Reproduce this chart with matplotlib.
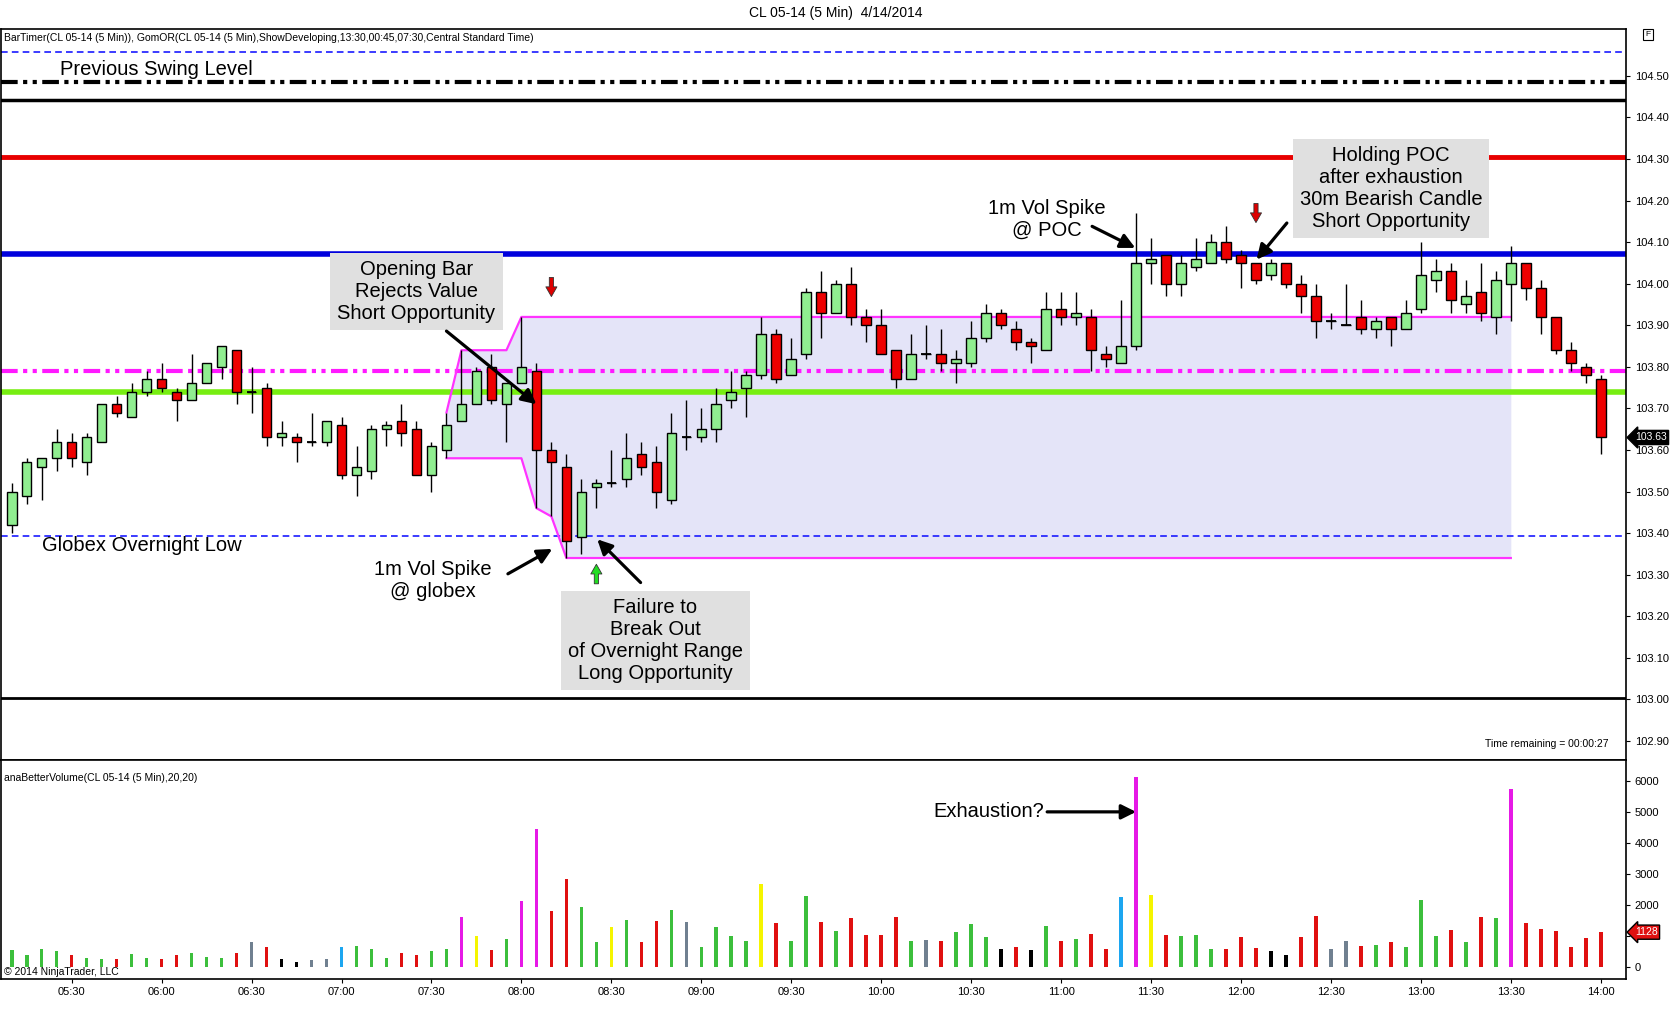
import numpy as np
import pandas as pd
import matplotlib
matplotlib.use('Agg')
import matplotlib.pyplot as plt
from matplotlib.ticker import FormatStrFormatter

plt.rcParams['font.family'] = ['Liberation Sans', 'DejaVu Sans']

# 5 min bars, CL 05-14, 4/14/2014
times = pd.date_range('2014-04-14 05:10', '2014-04-14 14:00', freq='5min')

opens = [103.42, 103.49, 103.56, 103.58, 103.62, 103.57, 103.62, 103.71, 103.68, 103.74,
         103.77, 103.74, 103.72, 103.76, 103.80, 103.84, 103.74, 103.75, 103.63, 103.63,
         103.62, 103.62, 103.66, 103.54, 103.55, 103.65, 103.67, 103.65, 103.54, 103.60,
         103.67, 103.71, 103.80, 103.71, 103.76, 103.79, 103.60, 103.56, 103.39, 103.51,
         103.52, 103.53, 103.59, 103.57, 103.48, 103.63, 103.63, 103.65, 103.72, 103.75,
         103.78, 103.88, 103.78, 103.83, 103.98, 103.93, 104.00, 103.92, 103.90, 103.84,
         103.77, 103.83, 103.83, 103.81, 103.81, 103.87, 103.93, 103.89, 103.86, 103.84,
         103.94, 103.92, 103.92, 103.83, 103.81, 103.85, 104.05, 104.07, 104.00, 104.04,
         104.05, 104.10, 104.07, 104.05, 104.02, 104.05, 104.00, 103.97, 103.91, 103.90,
         103.92, 103.89, 103.92, 103.89, 103.94, 104.01, 104.03, 103.95, 103.98, 103.92,
         104.00, 104.05, 103.99, 103.92, 103.84, 103.80, 103.77]
highs = [103.52, 103.58, 103.58, 103.65, 103.64, 103.64, 103.71, 103.73, 103.76, 103.79,
         103.81, 103.75, 103.83, 103.81, 103.85, 103.84, 103.80, 103.76, 103.67, 103.64,
         103.69, 103.67, 103.68, 103.61, 103.66, 103.67, 103.71, 103.67, 103.62, 103.69,
         103.84, 103.80, 103.83, 103.76, 103.92, 103.81, 103.62, 103.59, 103.53, 103.53,
         103.60, 103.64, 103.62, 103.61, 103.69, 103.72, 103.70, 103.75, 103.79, 103.79,
         103.92, 103.89, 103.87, 103.99, 104.03, 104.01, 104.04, 103.94, 103.94, 103.84,
         103.88, 103.90, 103.89, 103.84, 103.91, 103.95, 103.94, 103.91, 103.87, 103.98,
         103.98, 103.98, 103.94, 103.85, 103.96, 104.17, 104.11, 104.07, 104.07, 104.11,
         104.12, 104.14, 104.08, 104.05, 104.06, 104.05, 104.02, 104.00, 103.93, 104.00,
         103.96, 103.92, 103.92, 103.96, 104.10, 104.06, 104.05, 104.01, 104.05, 104.03,
         104.09, 104.05, 104.01, 103.92, 103.86, 103.81, 103.78]
lows = [103.40, 103.47, 103.48, 103.55, 103.56, 103.54, 103.62, 103.68, 103.68, 103.73,
        103.74, 103.67, 103.72, 103.76, 103.77, 103.71, 103.69, 103.61, 103.61, 103.57,
        103.61, 103.61, 103.53, 103.49, 103.53, 103.61, 103.61, 103.54, 103.50, 103.58,
        103.67, 103.71, 103.71, 103.62, 103.76, 103.46, 103.44, 103.34, 103.35, 103.46,
        103.51, 103.51, 103.54, 103.46, 103.47, 103.60, 103.62, 103.62, 103.70, 103.68,
        103.77, 103.76, 103.78, 103.82, 103.87, 103.93, 103.90, 103.86, 103.83, 103.75,
        103.77, 103.82, 103.79, 103.76, 103.80, 103.86, 103.89, 103.84, 103.81, 103.84,
        103.90, 103.90, 103.79, 103.80, 103.81, 103.84, 104.00, 103.97, 103.97, 104.03,
        104.05, 104.05, 103.99, 104.00, 104.01, 103.99, 103.93, 103.87, 103.89, 103.90,
        103.88, 103.87, 103.85, 103.89, 103.93, 103.98, 103.93, 103.93, 103.91, 103.88,
        103.91, 103.96, 103.88, 103.83, 103.79, 103.76, 103.59]
closes = [103.50, 103.57, 103.58, 103.62, 103.58, 103.63, 103.71, 103.69, 103.74, 103.77,
          103.75, 103.72, 103.76, 103.81, 103.85, 103.74, 103.74, 103.63, 103.64, 103.62,
          103.62, 103.67, 103.54, 103.56, 103.65, 103.66, 103.64, 103.54, 103.61, 103.66,
          103.71, 103.79, 103.72, 103.76, 103.80, 103.60, 103.57, 103.38, 103.50, 103.52,
          103.52, 103.58, 103.56, 103.50, 103.64, 103.63, 103.65, 103.71, 103.74, 103.78,
          103.88, 103.77, 103.82, 103.98, 103.93, 104.00, 103.92, 103.90, 103.83, 103.77,
          103.83, 103.83, 103.81, 103.82, 103.87, 103.93, 103.90, 103.86, 103.85, 103.94,
          103.92, 103.93, 103.84, 103.82, 103.85, 104.05, 104.06, 104.00, 104.05, 104.06,
          104.10, 104.06, 104.05, 104.01, 104.05, 104.00, 103.97, 103.91, 103.91, 103.90,
          103.89, 103.91, 103.89, 103.93, 104.02, 104.03, 103.96, 103.97, 103.93, 104.01,
          104.05, 103.99, 103.92, 103.84, 103.81, 103.78, 103.63]

volume = [561, 400, 594, 529, 400, 300, 280, 250, 433, 300,
          280, 379, 454, 320, 300, 454, 808, 637, 260, 180,
          240, 280, 637, 690, 594, 300, 454, 400, 529, 594,
          1602, 991, 561, 915, 2117, 4456, 1795, 2847, 1924, 819,
          1280, 1527, 819, 1473, 1849, 1463, 658, 1302, 1012, 851,
          2686, 1431, 851, 2300, 1463, 1173, 1591, 1044, 1044, 1624,
          851, 883, 851, 1141, 1398, 980, 594, 658, 540, 1334,
          830, 894, 1077, 572, 2267, 6120, 2332, 1044, 1012, 1044,
          594, 594, 980, 626, 529, 400, 980, 1656, 594, 851,
          690, 722, 819, 658, 2171, 1012, 1205, 819, 1624, 1591,
          5744, 1430, 1237, 1173, 650, 950, 1128]
# g=up, r=down, m=climax, y=churn, c=high vol up, k=low vol, s=neutral
vol_kind = ['g', 'g', 'g', 'g', 'r', 'g', 'g', 'r', 'g', 'g',
            'r', 'r', 'g', 'g', 'g', 'r', 's', 'r', 'k', 'k',
            's', 's', 'c', 'g', 'g', 'g', 'r', 'r', 'g', 'g',
            'm', 'y', 'r', 'g', 'm', 'm', 'r', 'r', 'g', 'g',
            'y', 'g', 'r', 'r', 'g', 's', 'g', 'g', 'g', 'g',
            'y', 'r', 'g', 'g', 'r', 'g', 'r', 'r', 'r', 'r',
            'g', 's', 'r', 'g', 'g', 'g', 'k', 'r', 'k', 'g',
            'r', 'g', 'r', 'r', 'c', 'm', 'y', 'r', 'g', 'g',
            'g', 'r', 'r', 'r', 'k', 'k', 'r', 'r', 's', 's',
            'r', 'g', 'r', 'g', 'g', 'g', 'r', 'g', 'r', 'g',
            'm', 'r', 'r', 'r', 'r', 'r', 'r']

# reference levels
prev_swing = 104.485
upper_dash = 104.557
black_level = 104.443
red_level = 104.304
poc = 104.072
magenta_level = 103.791
green_level = 103.74
globex_low = 103.394
low_level = 103.003

# opening range window (07:35 .. 08:15), shown until 13:30
or_start, or_end, or_stop = 29, 37, 100

o = np.array(opens); h = np.array(highs); l = np.array(lows); c = np.array(closes)
idx = np.arange(len(times))

fig = plt.figure(figsize=(16.8, 10.25), dpi=100)
ax = fig.add_axes([0.0006, 0.2581, 0.9675, 0.7137])
axv = fig.add_axes([0.0006, 0.0449, 0.9675, 0.2132], sharex=ax)

# opening range shading
or_hi = np.maximum.accumulate(h[or_start:or_end + 1])
or_lo = np.minimum.accumulate(l[or_start:or_end + 1])
or_x = np.arange(or_start, or_stop + 1)
or_hi = np.concatenate([or_hi, np.full(or_stop - or_end, or_hi[-1])])
or_lo = np.concatenate([or_lo, np.full(or_stop - or_end, or_lo[-1])])
ax.fill_between(or_x, or_lo, or_hi, color='#e4e4f8', lw=0, zorder=1)
ax.plot(or_x, or_hi, color='#ff33ff', lw=1.6, zorder=2.5)
ax.plot(or_x, or_lo, color='#ff33ff', lw=1.6, zorder=2.5)

# horizontal levels
ax.axhline(upper_dash, color='#1a1aff', lw=1.2, ls=(0, (4, 2.5)), zorder=2)
ax.axhline(prev_swing, color='black', lw=3, ls=(0, (4, 1.3, 1, 1.3, 1, 1.3)), zorder=2)
ax.axhline(black_level, color='black', lw=2.5, zorder=2)
ax.axhline(red_level, color='#e80000', lw=3.5, zorder=2)
ax.axhline(poc, color='#0000dd', lw=4, zorder=2)
ax.axhline(magenta_level, color='#ff19ff', lw=3, ls=(0, (4, 1.3, 1, 1.3, 1, 1.3)), zorder=2)
ax.axhline(green_level, color='#77ee11', lw=4, zorder=2)
ax.axhline(globex_low, color='#1a1aff', lw=1.2, ls=(0, (4, 2.5)), zorder=2)
ax.axhline(low_level, color='black', lw=2, zorder=2)

# candles
body_bot = np.minimum(o, c)
body_h = np.abs(c - o)
cols = np.where(c > o, '#90ee90', np.where(c < o, '#ee0000', 'black'))
ax.vlines(idx, l, h, color='black', lw=1, zorder=3)
ax.bar(idx, body_h, bottom=body_bot, width=0.64, color=cols, edgecolor='black', lw=1, zorder=4)
doji = body_h == 0
ax.hlines(o[doji], idx[doji] - 0.32, idx[doji] + 0.32, color='black', lw=1.3, zorder=4)

# volume
kind_color = {'g': '#3cbf3c', 'r': '#e01010', 'm': '#e619e6', 'y': '#f5f500',
              'c': '#1ca6f0', 'k': 'black', 's': '#708090'}
axv.bar(idx, volume, width=0.24, color=[kind_color[k] for k in vol_kind], zorder=3)

# axes styling
ax.set_xlim(-0.714, 107.71)
ax.set_ylim(102.853, 104.613)
axv.set_ylim(-379, 6655)

ax.yaxis.tick_right()
ax.set_yticks(np.round(np.arange(102.9, 104.51, 0.1), 2))
ax.yaxis.set_major_formatter(FormatStrFormatter('%.2f'))
ax.tick_params(axis='y', labelsize=8, length=3, pad=3)
ax.tick_params(axis='x', bottom=False, labelbottom=False)

axv.yaxis.tick_right()
vol_ticks = list(range(0, 6001, 1000))
axv.set_yticks(vol_ticks)
# the 1000 label sits under the last-volume marker
axv.set_yticklabels(['' if v == 1000 else str(v) for v in vol_ticks])
axv.tick_params(axis='y', labelsize=8, length=3, pad=3)
tick_pos = [i for i, t in enumerate(times) if t.minute in (0, 30)]
axv.set_xticks(tick_pos)
axv.set_xticklabels([times[i].strftime('%H:%M') for i in tick_pos])
axv.tick_params(axis='x', labelsize=8, length=3, pad=3)

for a in (ax, axv):
    for s in a.spines.values():
        s.set_linewidth(1.2)

# header texts
fig.text(0.4975, 0.9875, 'CL 05-14 (5 Min)  4/14/2014', ha='center', va='center', fontsize=10)
ax.text(0.002, 0.987, 'BarTimer(CL 05-14 (5 Min)), GomOR(CL 05-14 (5 Min),ShowDeveloping,'
        '13:30,00:45,07:30,Central Standard Time)', transform=ax.transAxes,
        fontsize=7.5, va='center', ha='left')
ax.text(0.989, 0.022, 'Time remaining = 00:00:27', transform=ax.transAxes,
        fontsize=7.5, va='center', ha='right')
axv.text(0.002, 0.92, 'anaBetterVolume(CL 05-14 (5 Min),20,20)', transform=axv.transAxes,
         fontsize=7.5, va='center', ha='left')
axv.text(0.002, 0.03, '\u00a9 2014 NinjaTrader, LLC', transform=axv.transAxes,
         fontsize=7.5, va='center', ha='left')
fig.text(0.981, 0.966, 'F', fontsize=6, ha='center', va='center',
         bbox=dict(boxstyle='square,pad=0.25', fc='white', ec='black', lw=0.8))

# last price / last volume markers
ax.annotate('%.2f' % closes[-1], xy=(1.0, closes[-1]), xycoords=('axes fraction', 'data'),
            xytext=(6, 0), textcoords='offset points', fontsize=7.5, color='white',
            va='center', ha='left', annotation_clip=False, zorder=8,
            bbox=dict(boxstyle='larrow,pad=0.2', fc='black', ec='black'))
axv.annotate('%d' % volume[-1], xy=(1.0, volume[-1]), xycoords=('axes fraction', 'data'),
             xytext=(6, 0), textcoords='offset points', fontsize=7.5, color='white',
             va='center', ha='left', annotation_clip=False, zorder=8,
             bbox=dict(boxstyle='larrow,pad=0.2', fc='#e01010', ec='black'))

# signal arrows
for bar_i, p0, p1, col in [(36, 104.015, 103.969, '#dd0000'),
                           (83, 104.193, 104.147, '#dd0000'),
                           (39, 103.278, 103.325, '#22dd22')]:
    ax.annotate('', xy=(bar_i, p1), xytext=(bar_i, p0),
                arrowprops=dict(arrowstyle='simple,head_width=0.8,head_length=0.7,tail_width=0.3',
                                fc=col, ec='#333333', lw=0.6, shrinkA=0, shrinkB=0), zorder=6)

# annotations
fs = 14.5
box = dict(boxstyle='square,pad=0.35', fc='#e0e0e0', ec='none')
arrow = dict(arrowstyle='-|>', lw=2.3, color='black', mutation_scale=22, shrinkA=0, shrinkB=0)

ax.text(3.2, 104.515, 'Previous Swing Level', fontsize=fs, ha='left', va='center', zorder=6)
ax.text(2.0, 103.369, 'Globex Overnight Low', fontsize=fs, ha='left', va='center', zorder=6)

ax.text(27.0, 103.982, 'Opening Bar\nRejects Value\nShort Opportunity', fontsize=fs,
        ha='center', va='center', multialignment='center', bbox=box, zorder=6)
ax.annotate('', xy=(35.0, 103.71), xytext=(29.0, 103.886), arrowprops=arrow, zorder=7)

ax.text(28.07, 103.286, '1m Vol Spike\n@ globex', fontsize=fs, ha='center', va='center',
        multialignment='center', zorder=6)
ax.annotate('', xy=(36.06, 103.362), xytext=(33.1, 103.302), arrowprops=arrow, zorder=7)

ax.text(42.93, 103.142, 'Failure to\nBreak Out\nof Overnight Range\nLong Opportunity',
        fontsize=fs, ha='center', va='center', multialignment='center', bbox=box, zorder=6)
ax.annotate('', xy=(39.06, 103.385), xytext=(41.95, 103.281), arrowprops=arrow, zorder=7)

ax.text(69.07, 104.155, '1m Vol Spike\n@ POC', fontsize=fs, ha='center', va='center',
        multialignment='center', zorder=6)
ax.annotate('', xy=(74.95, 104.086), xytext=(72.07, 104.138), arrowprops=arrow, zorder=7)

ax.text(92.0, 104.229, 'Holding POC\nafter exhaustion\n30m Bearish Candle\nShort Opportunity',
        fontsize=fs, ha='center', va='center', multialignment='center', bbox=box, zorder=6)
ax.annotate('', xy=(83.04, 104.058), xytext=(85.06, 104.146), arrowprops=arrow, zorder=7)

axv.text(68.9, 5000, 'Exhaustion?', fontsize=fs, ha='right', va='center', zorder=6)
axv.annotate('', xy=(75.0, 5000), xytext=(69.07, 5000), arrowprops=arrow, zorder=7)

fig.savefig('out.png', dpi=100)
